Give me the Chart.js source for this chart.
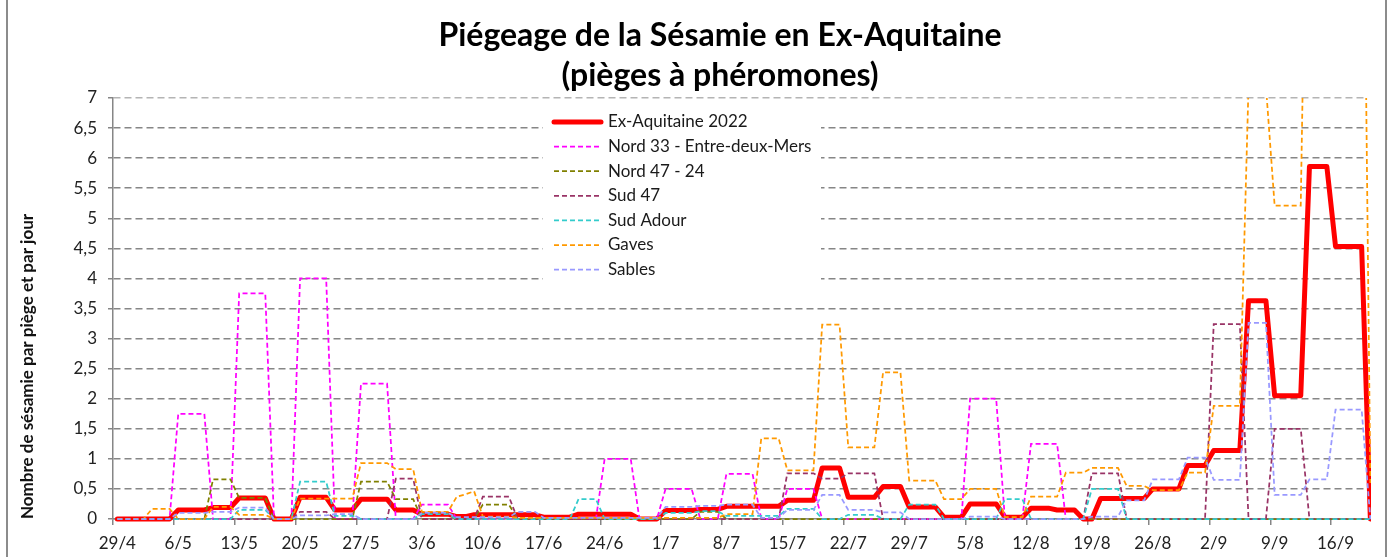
<!DOCTYPE html>
<html>
<head>
<meta charset="utf-8">
<title>Piégeage de la Sésamie en Ex-Aquitaine</title>
<script src="https://cdn.jsdelivr.net/npm/chart.js@4.4.0/dist/chart.umd.min.js"></script>
<style>
  html, body { margin: 0; padding: 0; background: #fff; }
  #wrap { width: 1391px; height: 557px; }
</style>
</head>
<body>
<div id="wrap"><canvas id="sesamieChart" width="1391" height="557"></canvas></div>
<script>
// jours de relevé (29/4 -> 20/9)
const days = [
  '29/4', '30/4',
  '1/5', '2/5', '3/5', '4/5', '5/5', '6/5', '7/5', '8/5', '9/5', '10/5', '11/5', '12/5', '13/5', '14/5', '15/5', '16/5',
  '17/5', '18/5', '19/5', '20/5', '21/5', '22/5', '23/5', '24/5', '25/5', '26/5', '27/5', '28/5', '29/5', '30/5', '31/5',
  '1/6', '2/6', '3/6', '4/6', '5/6', '6/6', '7/6', '8/6', '9/6', '10/6', '11/6', '12/6', '13/6', '14/6', '15/6',
  '16/6', '17/6', '18/6', '19/6', '20/6', '21/6', '22/6', '23/6', '24/6', '25/6', '26/6', '27/6', '28/6', '29/6', '30/6',
  '1/7', '2/7', '3/7', '4/7', '5/7', '6/7', '7/7', '8/7', '9/7', '10/7', '11/7', '12/7', '13/7', '14/7', '15/7', '16/7',
  '17/7', '18/7', '19/7', '20/7', '21/7', '22/7', '23/7', '24/7', '25/7', '26/7', '27/7', '28/7', '29/7', '30/7', '31/7',
  '1/8', '2/8', '3/8', '4/8', '5/8', '6/8', '7/8', '8/8', '9/8', '10/8', '11/8', '12/8', '13/8', '14/8', '15/8', '16/8',
  '17/8', '18/8', '19/8', '20/8', '21/8', '22/8', '23/8', '24/8', '25/8', '26/8', '27/8', '28/8', '29/8', '30/8', '31/8',
  '1/9', '2/9', '3/9', '4/9', '5/9', '6/9', '7/9', '8/9', '9/9', '10/9', '11/9', '12/9', '13/9', '14/9', '15/9', '16/9',
  '17/9', '18/9', '19/9', '20/9'
];

const yTicks = [0, 0.5, 1, 1.5, 2, 2.5, 3, 3.5, 4, 4.5, 5, 5.5, 6, 6.5, 7];

// une ligne = une semaine
const exAquitaine = [
  0, 0, 0, 0, 0, 0, 0,
  0.15, 0.15, 0.15, 0.15, 0.19, 0.19, 0.19,
  0.35, 0.35, 0.35, 0.35, 0, 0, 0,
  0.36, 0.36, 0.36, 0.36, 0.15, 0.15, 0.15,
  0.33, 0.33, 0.33, 0.33, 0.15, 0.15, 0.15,
  0.08, 0.08, 0.08, 0.08, 0.04, 0.04, 0.07,
  0.07, 0.07, 0.07, 0.07, 0.07, 0.07, 0.07,
  0.03, 0.03, 0.03, 0.03, 0.08, 0.08, 0.08,
  0.08, 0.08, 0.08, 0.08, 0, 0, 0,
  0.14, 0.14, 0.14, 0.14, 0.16, 0.16, 0.16,
  0.21, 0.21, 0.21, 0.21, 0.21, 0.21, 0.21,
  0.31, 0.31, 0.31, 0.31, 0.85, 0.85, 0.85,
  0.36, 0.36, 0.36, 0.36, 0.54, 0.54, 0.54,
  0.2, 0.2, 0.2, 0.2, 0.03, 0.03, 0.03,
  0.25, 0.25, 0.25, 0.25, 0.03, 0.03, 0.03,
  0.18, 0.18, 0.18, 0.15, 0.15, 0.15, 0,
  0, 0.34, 0.34, 0.34, 0.34, 0.34, 0.34,
  0.5, 0.5, 0.5, 0.5, 0.89, 0.89, 0.89,
  1.14, 1.14, 1.14, 1.14, 3.63, 3.63, 3.63,
  2.05, 2.05, 2.05, 2.05, 5.86, 5.86, 5.86,
  4.53, 4.53, 4.53, 4.53, 0
];

const nord33 = [
  0, 0, 0, 0, 0, 0, 0,
  1.75, 1.75, 1.75, 1.75, 0, 0, 0,
  3.75, 3.75, 3.75, 3.75, 0, 0, 0,
  4, 4, 4, 4, 0, 0, 0,
  2.25, 2.25, 2.25, 2.25, 0, 0, 0,
  0.24, 0.24, 0.24, 0.24, 0, 0, 0,
  0, 0, 0, 0, 0, 0, 0,
  0, 0, 0, 0, 0, 0, 0,
  1, 1, 1, 1, 0, 0, 0,
  0.5, 0.5, 0.5, 0.5, 0, 0, 0,
  0.75, 0.75, 0.75, 0.75, 0, 0, 0,
  0.5, 0.5, 0.5, 0.5, 0, 0, 0,
  0, 0, 0, 0, 0, 0, 0,
  0, 0, 0, 0, 0, 0, 0,
  2, 2, 2, 2, 0, 0, 0,
  1.25, 1.25, 1.25, 1.25, 0, 0, 0,
  0, 0, 0, 0, 0, 0, 0,
  0, 0, 0, 0, 0, 0, 0,
  0, 0, 0, 0, 0, 0, 0,
  0, 0, 0, 0, 0, 0, 0,
  0, 0, 0, 0, 0
];

const nord4724 = [
  0, 0, 0, 0, 0, 0, 0,
  0, 0, 0, 0, 0.66, 0.66, 0.66,
  0.35, 0.35, 0.35, 0.35, 0, 0, 0,
  0, 0, 0, 0, 0, 0, 0,
  0.62, 0.62, 0.62, 0.62, 0.33, 0.33, 0.33,
  0, 0, 0, 0, 0, 0, 0,
  0.24, 0.24, 0.24, 0.24, 0, 0, 0,
  0, 0, 0, 0, 0, 0, 0,
  0, 0, 0, 0, 0, 0, 0,
  0, 0, 0, 0, 0.12, 0.12, 0.12,
  0, 0, 0, 0, 0, 0, 0,
  0, 0, 0, 0, 0, 0, 0,
  0, 0, 0, 0, 0, 0, 0,
  0, 0, 0, 0, 0, 0, 0,
  0, 0, 0, 0, 0, 0, 0,
  0, 0, 0, 0, 0, 0, 0,
  0, 0, 0, 0, 0, 0, 0,
  0, 0, 0, 0, 0, 0, 0,
  0, 0, 0, 0, 0, 0, 0,
  0, 0, 0, 0, 0, 0, 0,
  0, 0, 0, 0, 0
];

const sud47 = [
  0, 0, 0, 0, 0, 0, 0,
  0, 0, 0, 0, 0, 0, 0,
  0, 0, 0, 0, 0, 0, 0,
  0.12, 0.12, 0.12, 0.12, 0, 0, 0,
  0, 0, 0, 0, 0.67, 0.67, 0.67,
  0, 0, 0, 0, 0, 0, 0,
  0.37, 0.37, 0.37, 0.37, 0, 0, 0,
  0, 0, 0, 0, 0, 0, 0,
  0, 0, 0, 0, 0, 0, 0,
  0, 0, 0, 0, 0, 0, 0,
  0, 0, 0, 0, 0, 0, 0,
  0.76, 0.76, 0.76, 0.76, 0.67, 0.67, 0.67,
  0.76, 0.76, 0.76, 0.76, 0, 0, 0,
  0, 0, 0, 0, 0, 0, 0,
  0, 0, 0, 0, 0, 0, 0,
  0, 0, 0, 0, 0, 0, 0,
  0.76, 0.76, 0.76, 0.76, 0, 0, 0,
  0, 0, 0, 0, 0, 0, 0,
  3.24, 3.24, 3.24, 3.24, 0, 0, 0,
  1.5, 1.5, 1.5, 1.5, 0, 0, 0,
  0, 0, 0, 0, 0
];

const sudAdour = [
  0, 0, 0, 0, 0, 0, 0,
  0, 0, 0, 0, 0, 0, 0,
  0.15, 0.15, 0.15, 0.15, 0, 0, 0,
  0.62, 0.62, 0.62, 0.62, 0.05, 0.05, 0.05,
  0, 0, 0, 0, 0, 0, 0,
  0.08, 0.08, 0.08, 0.08, 0, 0, 0,
  0, 0, 0, 0, 0, 0, 0,
  0, 0, 0, 0, 0.33, 0.33, 0.33,
  0, 0, 0, 0, 0, 0, 0,
  0.1, 0.1, 0.1, 0.1, 0.13, 0.13, 0.13,
  0.05, 0.05, 0.05, 0.05, 0.05, 0.05, 0.05,
  0.17, 0.17, 0.17, 0.17, 0, 0, 0,
  0.07, 0.07, 0.07, 0.07, 0, 0, 0,
  0.24, 0.24, 0.24, 0.24, 0, 0, 0,
  0, 0, 0, 0, 0.33, 0.33, 0.33,
  0, 0, 0, 0, 0, 0, 0,
  0.5, 0.5, 0.5, 0.5, 0, 0, 0,
  0, 0, 0, 0, 0, 0, 0,
  0, 0, 0, 0, 0, 0, 0,
  0, 0, 0, 0, 0, 0, 0,
  0, 0, 0, 0, 0
];

const gaves = [
  0, 0, 0, 0, 0.17, 0.17, 0.17,
  0, 0, 0, 0, 0.2, 0.2, 0.2,
  0.07, 0.07, 0.07, 0.07, 0, 0, 0,
  0.34, 0.34, 0.34, 0.34, 0.34, 0.34, 0.34,
  0.93, 0.93, 0.93, 0.93, 0.83, 0.83, 0.83,
  0.12, 0.12, 0.12, 0.12, 0.37, 0.41, 0.46,
  0.04, 0.04, 0.04, 0.04, 0.02, 0.02, 0.02,
  0.02, 0.02, 0.02, 0.02, 0.02, 0.02, 0.02,
  0.02, 0.02, 0.02, 0.02, 0.02, 0.02, 0.02,
  0.02, 0.02, 0.02, 0.02, 0.02, 0.02, 0.02,
  0.08, 0.08, 0.08, 0.08, 1.34, 1.34, 1.34,
  0.81, 0.81, 0.81, 0.81, 3.23, 3.23, 3.23,
  1.19, 1.19, 1.19, 1.19, 2.44, 2.44, 2.44,
  0.64, 0.64, 0.64, 0.64, 0.33, 0.33, 0.33,
  0.5, 0.5, 0.5, 0.5, 0.03, 0.03, 0.03,
  0.37, 0.37, 0.37, 0.37, 0.77, 0.77, 0.77,
  0.85, 0.85, 0.85, 0.85, 0.55, 0.55, 0.55,
  0.48, 0.48, 0.48, 0.48, 0.77, 0.77, 0.77,
  1.88, 1.88, 1.88, 1.88, 7.2, 7.2, 7.2,
  5.21, 5.21, 5.21, 5.21, 14, 14, 14,
  14, 14, 14, 14, 0.6
];

const sables = [
  0, 0, 0, 0, 0, 0, 0,
  0.1, 0.1, 0.1, 0.1, 0.12, 0.12, 0.12,
  0.19, 0.19, 0.19, 0.19, 0, 0, 0,
  0.06, 0.06, 0.06, 0.06, 0.08, 0.08, 0.08,
  0, 0, 0, 0, 0, 0, 0,
  0.1, 0.1, 0.1, 0.1, 0.03, 0.03, 0.03,
  0.03, 0.03, 0.03, 0.03, 0.12, 0.12, 0.12,
  0.02, 0.02, 0.02, 0.02, 0.02, 0.02, 0.02,
  0.02, 0.02, 0.02, 0.02, 0.02, 0.02, 0.02,
  0.2, 0.2, 0.2, 0.2, 0.22, 0.22, 0.22,
  0.24, 0.24, 0.24, 0.24, 0.02, 0.02, 0.02,
  0.15, 0.15, 0.15, 0.15, 0.4, 0.4, 0.4,
  0.15, 0.15, 0.15, 0.15, 0.11, 0.11, 0.11,
  0, 0, 0, 0, 0, 0, 0,
  0.04, 0.04, 0.04, 0.04, 0, 0, 0,
  0, 0, 0, 0, 0, 0, 0,
  0.04, 0.04, 0.04, 0.04, 0.31, 0.31, 0.31,
  0.66, 0.66, 0.66, 0.66, 1.02, 1.02, 1.02,
  0.65, 0.65, 0.65, 0.65, 3.26, 3.26, 3.26,
  0.4, 0.4, 0.4, 0.4, 0.66, 0.66, 0.66,
  1.82, 1.82, 1.82, 1.82, 0
];

Chart.defaults.font.family = 'Lato';
Chart.defaults.color = '#222222';

//dashed series
function secteur(label, data, color, order) {
    return {
        label: label,
        data: data,
        borderColor: color,
        backgroundColor: color,
        borderWidth: 1.75,
        borderDash: [5, 3],
        pointRadius: 0,
        tension: 0,
        order: order,
        clip: { left: 3, top: 0, right: 5, bottom: 3 }
    };
}

//fond blanc + cadre
const cadre = {
    id: 'cadre',
    beforeDraw: function(chart) {
        const ctx = chart.ctx;
        ctx.save();
        ctx.fillStyle = '#ffffff';
        ctx.fillRect(0, 0, chart.width, chart.height);
        ctx.strokeStyle = '#8c8c8c';
        ctx.lineWidth = 2;
        ctx.beginPath();
        ctx.moveTo(7, 0); ctx.lineTo(7, chart.height);
        ctx.moveTo(1386, 0); ctx.lineTo(1386, chart.height);
        ctx.stroke();
        ctx.restore();
    }
};

//titre un peu décalé vers la droite
const titreDecale = {
    id: 'titreDecale',
    afterLayout: function(chart) {
        const t = chart.titleBlock;
        if (!t) return;
        const shift = 720 - (t.left + t.right) / 2;
        t.left += shift;
        t.right += shift;
    }
};

//légende dans la zone du graphique
const legendeInterne = {
    id: 'legendeInterne',
    beforeDatasetsDraw: function(chart) {
        const ctx = chart.ctx;
        const area = chart.chartArea;
        const x = area.left + 430;
        const y = area.top + 9;
        ctx.save();
        ctx.fillStyle = '#ffffff';
        ctx.fillRect(x, y, 278, 182);
        ctx.font = '17px Lato';
        ctx.textBaseline = 'middle';
        chart.data.datasets.forEach(function(ds, i) {
            const ly = y + 15 + i * 24.6;
            ctx.beginPath();
            ctx.strokeStyle = ds.borderColor;
            ctx.lineWidth = ds.borderWidth;
            ctx.lineCap = ds.borderCapStyle || 'butt';
            ctx.setLineDash(ds.borderDash || []);
            ctx.moveTo(x + 11, ly);
            ctx.lineTo(x + 58, ly);
            ctx.stroke();
            ctx.setLineDash([]);
            ctx.fillStyle = '#1a1a1a';
            ctx.fillText(ds.label, x + 65, ly);
        });
        ctx.restore();
    }
};

const ctx = document.getElementById('sesamieChart').getContext('2d');

new Chart(ctx, {
    type: 'line',
    data: {
        labels: days,
        datasets: [
            {
                label: 'Ex-Aquitaine 2022',
                data: exAquitaine,
                borderColor: '#ff0000',
                backgroundColor: '#ff0000',
                borderWidth: 5,
                borderCapStyle: 'round',
                borderJoinStyle: 'round',
                pointRadius: 0,
                tension: 0,
                order: 7,
                clip: { left: 3, top: 0, right: 5, bottom: 3 }
            },
            secteur('Nord 33 - Entre-deux-Mers', nord33, '#ff00ff', 6),
            secteur('Nord 47 - 24', nord4724, '#808000', 5),
            secteur('Sud 47', sud47, '#993366', 4),
            secteur('Sud Adour', sudAdour, '#33cccc', 3),
            secteur('Gaves', gaves, '#ff9900', 2),
            secteur('Sables', sables, '#9999ff', 1)
        ]
    },
    options: {
        responsive: false,
        animation: false,
        devicePixelRatio: 1,
        layout: {
            padding: { left: 12, right: 25, top: 0, bottom: 4 }
        },
        plugins: {
            legend: { display: false },
            tooltip: { enabled: false },
            title: {
                display: true,
                text: ['Piégeage de la Sésamie en Ex-Aquitaine', '(pièges à phéromones)'],
                color: '#000000',
                font: { size: 32, weight: 'bold', lineHeight: '40px' },
                padding: { top: 16, bottom: 2 }
            }
        },
        scales: {
            x: {
                offset: true,
                // le dernier relevé (20/9) sort du cadre, comme sur l'original
                afterDataLimits: function(scale) { scale.max = days.length - 2; },
                afterFit: function(scale) { scale.height = 34; },
                grid: {
                    display: true,
                    drawOnChartArea: false,
                    offset: true,
                    tickLength: 6,
                    tickWidth: 1.5,
                    lineWidth: 1.5,
                    color: function(c) { return c.index % 7 === 0 ? '#868686' : 'rgba(0,0,0,0)'; },
                    tickColor: function(c) { return c.index % 7 === 0 ? '#868686' : 'rgba(0,0,0,0)'; }
                },
                border: { display: true, color: '#868686', width: 1.5 },
                ticks: {
                    autoSkip: false,
                    maxRotation: 0,
                    padding: 8,
                    font: { size: 17 },
                    callback: function(value, index) {
                        return index % 7 === 0 ? days[index] : '';
                    }
                }
            },
            y: {
                min: 0,
                max: 7,
                afterFit: function(scale) { scale.width = 101; },
                afterBuildTicks: function(scale) {
                    scale.ticks = yTicks.map(function(v) { return { value: v }; });
                },
                grid: {
                    color: function(c) { return c.tick && c.tick.value === 7 ? '#b4b4b4' : '#868686'; },
                    lineWidth: 1.5,
                    tickLength: 5,
                    tickColor: '#868686',
                    tickBorderDash: []
                },
                border: { display: true, color: '#868686', width: 1.5, dash: [7, 4] },
                ticks: {
                    padding: 11,
                    font: { size: 17 },
                    callback: function(value) {
                        return String(value).replace('.', ',');
                    }
                },
                title: {
                    display: true,
                    text: 'Nombre de sésamie par piège et par jour',
                    align: 'start',
                    color: '#111111',
                    font: { size: 17, weight: 'bold' },
                    padding: { top: 5, bottom: 0 }
                }
            }
        }
    },
    plugins: [cadre, titreDecale, legendeInterne]
});
</script>
</body>
</html>
